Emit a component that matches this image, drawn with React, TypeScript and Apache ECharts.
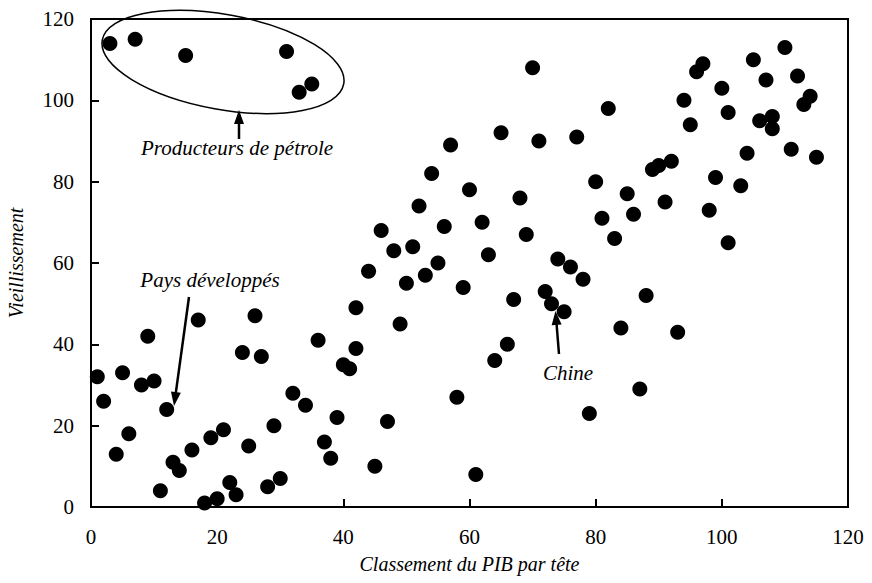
import React, { useEffect, useRef } from "react";
import * as echarts from "echarts";

// Classement du PIB par tête (x) and Vieillissement (y)
const rank: number[] = [
  1, 2, 3, 4, 5, 6, 7, 8, 9, 10,
  11, 12, 13, 14, 15, 16, 17, 18, 19, 20,
  21, 22, 23, 24, 25, 26, 27, 28, 29, 30,
  31, 32, 33, 34, 35, 36, 37, 38, 39, 40,
  41, 42, 42, 44, 45, 46, 47, 48, 49, 50,
  51, 52, 53, 54, 55, 56, 57, 58, 59, 60,
  61, 62, 63, 64, 65, 66, 67, 68, 69, 70,
  71, 72, 73, 74, 75, 76, 77, 78, 79, 80,
  81, 82, 83, 84, 85, 86, 87, 88, 89, 90,
  91, 92, 93, 94, 95, 96, 97, 98, 99, 100,
  101, 101, 103, 104, 105, 106, 107, 108, 108, 110,
  111, 112, 113, 114, 115,
];
const aging: number[] = [
  32, 26, 114, 13, 33, 18, 115, 30, 42, 31,
  4, 24, 11, 9, 111, 14, 46, 1, 17, 2,
  19, 6, 3, 38, 15, 47, 37, 5, 20, 7,
  112, 28, 102, 25, 104, 41, 16, 12, 22, 35,
  34, 49, 39, 58, 10, 68, 21, 63, 45, 55,
  64, 74, 57, 82, 60, 69, 89, 27, 54, 78,
  8, 70, 62, 36, 92, 40, 51, 76, 67, 108,
  90, 53, 50, 61, 48, 59, 91, 56, 23, 80,
  71, 98, 66, 44, 77, 72, 29, 52, 83, 84,
  75, 85, 43, 100, 94, 107, 109, 73, 81, 103,
  97, 65, 79, 87, 110, 95, 105, 96, 93, 113,
  88, 106, 99, 101, 86,
];

const xTitle = "Classement du PIB par tête";
const yTitle = "Vieillissement";
const notePetrole = "Producteurs de pétrole";
const notePays = "Pays développés";
const noteChine = "Chine";

const FONT = "'Liberation Serif', 'DejaVu Serif', serif";

function arrow(x1: number, y1: number, x2: number, y2: number) {
  const dx = x2 - x1;
  const dy = y2 - y1;
  const len = Math.sqrt(dx * dx + dy * dy);
  const ux = dx / len;
  const uy = dy / len;
  const L = 14;
  const w = 5;
  const bx = x2 - ux * L;
  const by = y2 - uy * L;
  const px = -uy;
  const py = ux;
  return [
    {
      type: "line",
      shape: { x1, y1, x2: bx + ux * 2, y2: by + uy * 2 },
      style: { stroke: "#000", lineWidth: 2.5 },
    },
    {
      type: "polygon",
      shape: {
        points: [
          [x2, y2],
          [bx + px * w, by + py * w],
          [bx - px * w, by - py * w],
        ],
      },
      style: { fill: "#000" },
    },
  ];
}

export default function App() {
  const ref = useRef<HTMLDivElement>(null);

  useEffect(() => {
    if (!ref.current) return;
    const chart = echarts.init(ref.current, null, { renderer: "svg" });
    const data = rank.map((r, i) => [r, aging[i]]);

    const noteStyle = {
      fill: "#000",
      font: `italic 21px ${FONT}`,
      align: "center",
      verticalAlign: "middle",
    };

    chart.setOption({
      animation: false,
      backgroundColor: "#fff",
      grid: {
        left: 91,
        right: 24,
        top: 19,
        bottom: 76,
        show: true,
        borderColor: "#000",
        borderWidth: 2,
        outerBoundsMode: "none",
      },
      xAxis: {
        type: "value",
        min: 0,
        max: 120,
        interval: 20,
        name: xTitle,
        nameLocation: "middle",
        nameGap: 47,
        nameTextStyle: {
          fontStyle: "italic",
          fontSize: 20,
          fontFamily: FONT,
          color: "#000",
        },
        axisLine: { show: true, lineStyle: { color: "#000", width: 2 } },
        axisTick: { show: true, inside: true, length: 8, lineStyle: { color: "#000", width: 2 } },
        splitLine: { show: false },
        axisLabel: { color: "#000", fontSize: 21, fontFamily: FONT, margin: 19 },
      },
      yAxis: {
        type: "value",
        min: 0,
        max: 120,
        interval: 20,
        name: yTitle,
        nameLocation: "middle",
        nameGap: 65,
        nameTextStyle: {
          fontStyle: "italic",
          fontSize: 20,
          fontFamily: FONT,
          color: "#000",
        },
        axisLine: { show: true, lineStyle: { color: "#000", width: 2 } },
        axisTick: { show: true, inside: true, length: 8, lineStyle: { color: "#000", width: 2 } },
        splitLine: { show: false },
        axisLabel: { color: "#000", fontSize: 21, fontFamily: FONT, margin: 17 },
      },
      series: [
        {
          type: "scatter",
          data,
          symbol: "circle",
          symbolSize: 15,
          itemStyle: { color: "#000", opacity: 1 },
          silent: true,
        },
      ],
      graphic: [
        {
          type: "ellipse",
          x: 223,
          y: 62,
          rotation: -0.179,
          shape: { cx: 0, cy: 0, rx: 122.7, ry: 47.4 },
          style: { fill: "none", stroke: "#000", lineWidth: 1.5 },
          z: 10,
        },
        ...arrow(239, 139, 239, 110),
        { type: "text", x: 237, y: 148, style: { ...noteStyle, text: notePetrole } },
        ...arrow(189, 297, 174, 406),
        { type: "text", x: 210, y: 280, style: { ...noteStyle, text: notePays } },
        ...arrow(559, 354, 555.5, 311),
        { type: "text", x: 568, y: 373, style: { ...noteStyle, text: noteChine } },
      ],
    });

    return () => chart.dispose();
  }, []);

  return (
    <div
      ref={ref}
      style={{ position: "fixed", left: 0, top: 0, width: 872, height: 583, background: "#fff" }}
    />
  );
}
